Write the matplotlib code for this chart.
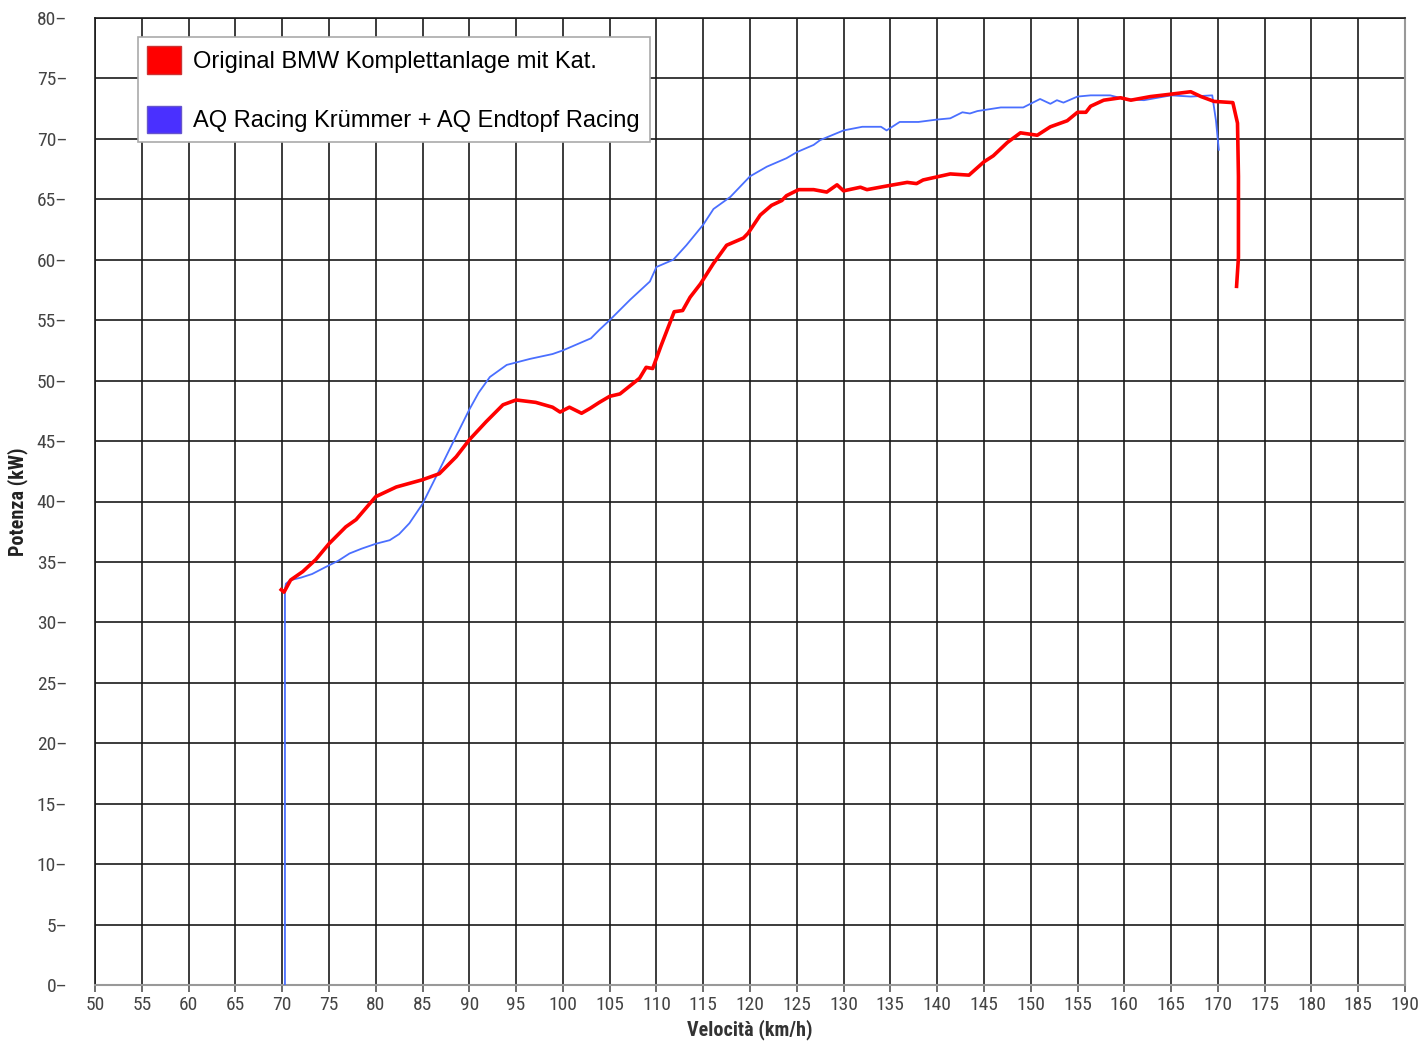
import matplotlib
matplotlib.use("Agg")
import matplotlib.pyplot as plt
from matplotlib.patches import Patch
from matplotlib import font_manager

# --- data ---
blue_speed = [70.3, 70.3, 70.4, 70.9, 72.0, 73.2, 74.7, 76.0, 77.2, 78.5, 80.0, 81.5, 82.5, 83.6,
              85.0, 86.8, 88.2, 90.0, 91.0, 92.2, 94.0, 96.5, 98.9, 100.0, 101.5, 103.0, 103.9,
              105.0, 107.2, 109.3, 110.0, 111.8, 113.2, 115.0, 116.1, 117.9, 120.0, 121.8, 123.9,
              125.0, 126.8, 127.5, 130.0, 132.0, 134.0, 134.6, 136.0, 138.0, 140.0, 141.4, 142.7,
              143.5, 144.3, 146.8, 149.2, 151.0, 152.1, 152.8, 153.5, 155.0, 156.4, 158.5, 160.0,
              162.1, 165.0, 167.1, 169.4, 169.8, 170.1]
blue_power = [0, 32.7, 33.2, 33.5, 33.7, 34.0, 34.6, 35.1, 35.7, 36.1, 36.5, 36.8, 37.3, 38.2,
              39.8, 42.6, 44.8, 47.6, 49.0, 50.3, 51.3, 51.8, 52.2, 52.5, 53.0, 53.5, 54.2,
              55.0, 56.7, 58.2, 59.4, 60.0, 61.2, 62.9, 64.2, 65.2, 66.9, 67.7, 68.4,
              68.9, 69.5, 69.9, 70.7, 71.0, 71.0, 70.7, 71.4, 71.4, 71.6, 71.7, 72.2,
              72.1, 72.3, 72.6, 72.6, 73.3, 72.9, 73.2, 73.0, 73.5, 73.6, 73.6, 73.3,
              73.2, 73.6, 73.5, 73.6, 71.5, 69.1]

red_speed = [69.9, 70.2, 70.9, 72.2, 73.6, 75.0, 76.8, 77.9, 80.0, 82.2, 85.0, 86.8, 88.6, 90.0,
             91.8, 93.6, 95.0, 97.1, 98.9, 99.7, 100.7, 102.0, 102.9, 103.9, 105.0, 106.1, 108.2,
             108.9, 109.6, 110.5, 111.9, 112.8, 113.6, 114.7, 116.1, 117.5, 119.3, 119.8, 121.1,
             122.3, 123.4, 123.9, 125.2, 126.8, 128.2, 129.3, 130.0, 131.8, 132.5, 134.6, 136.8,
             137.8, 138.5, 141.4, 143.4, 145.0, 146.0, 147.5, 148.9, 150.7, 152.1, 153.9, 155.0,
             155.9, 156.4, 157.8, 159.6, 160.7, 162.8, 165.0, 167.1, 168.2, 169.6, 171.6, 172.1,
             172.2, 172.2, 172.0]
red_power = [32.7, 32.5, 33.5, 34.2, 35.2, 36.5, 37.9, 38.5, 40.4, 41.2, 41.8, 42.3, 43.7, 45.1,
             46.6, 48.0, 48.4, 48.2, 47.8, 47.4, 47.8, 47.3, 47.7, 48.2, 48.7, 48.9, 50.2,
             51.1, 51.0, 52.9, 55.7, 55.8, 56.9, 58.0, 59.7, 61.2, 61.8, 62.2, 63.7,
             64.5, 64.9, 65.3, 65.8, 65.8, 65.6, 66.2, 65.7, 66.0, 65.8, 66.1, 66.4,
             66.3, 66.6, 67.1, 67.0, 68.1, 68.6, 69.7, 70.5, 70.3, 71.0, 71.5, 72.2,
             72.2, 72.7, 73.2, 73.4, 73.2, 73.5, 73.7, 73.9, 73.5, 73.1, 73.0, 71.3,
             66.9, 60.2, 57.8]

x_ticks = list(range(50, 191, 5))
y_ticks = list(range(0, 81, 5))
labels = ["Original BMW Komplettanlage mit Kat.", "AQ Racing Krümmer + AQ Endtopf Racing"]
xlabel = "Velocità (km/h)"
ylabel = "Potenza (kW)"

installed = {f.name for f in font_manager.fontManager.ttflist}
narrow = [f for f in ['Liberation Sans Narrow', 'DejaVu Sans Condensed', 'Roboto Condensed', 'DejaVu Sans']
          if f in installed] or ['DejaVu Sans']
narrow_fp = dict(family=narrow, stretch='condensed')

fig = plt.figure(figsize=(14.2, 10.41), dpi=100)
ax = fig.add_axes([95/1420, 1 - 985/1041, 1310/1420, 967/1041])
ax.set_xlim(50, 190)
ax.set_ylim(0, 80)

ax.set_xticks(x_ticks)
ax.set_yticks(y_ticks)
ax.grid(True, color='#1a1a1a', linewidth=1.2)
ax.set_axisbelow(True)

ax.plot(blue_speed, blue_power, color='#4a6fff', linewidth=1.3, zorder=3)
ax.plot(red_speed, red_power, color='#ff0000', linewidth=2.6, zorder=4)

ax.set_xticklabels([str(v) for v in x_ticks], fontsize=14, color='#444444', **narrow_fp)
ax.set_yticklabels([f"{v}\u2013" for v in y_ticks], fontsize=14, color='#444444', **narrow_fp)
ax.tick_params(axis='x', length=5, width=1.2, color='#555555', pad=3)
ax.tick_params(axis='y', length=0, pad=20)

for s in ['bottom', 'right']:
    ax.spines[s].set_color('#999999')
    ax.spines[s].set_linewidth(1.5)
for s in ['left', 'top']:
    ax.spines[s].set_color('#1a1a1a')
    ax.spines[s].set_linewidth(1.2)

ax.set_xlabel(xlabel, fontsize=14.5, fontweight='bold', color='#333333', labelpad=4, **narrow_fp)
ax.set_ylabel(ylabel, fontsize=14.5, fontweight='bold', color='#222222', labelpad=6, **narrow_fp)

handles = [Patch(facecolor='#ff0000', edgecolor='#cc3333'),
           Patch(facecolor='#4a30ff', edgecolor='#6655cc')]
leg = ax.legend(handles, labels, loc='upper left', bbox_to_anchor=(43/1310, (985-37)/967),
                prop={'family': 'Liberation Sans', 'size': 17.0}, frameon=True, fancybox=False,
                shadow=False, handlelength=1.4, handleheight=1.4, labelspacing=1.35,
                borderpad=0.4, handletextpad=0.55, borderaxespad=0)
leg.get_frame().set_edgecolor('#aaaaaa')
leg.get_frame().set_linewidth(1.2)
leg.get_frame().set_alpha(1)
leg.set_zorder(10)

fig.savefig("out.png", dpi=100, facecolor='white')
